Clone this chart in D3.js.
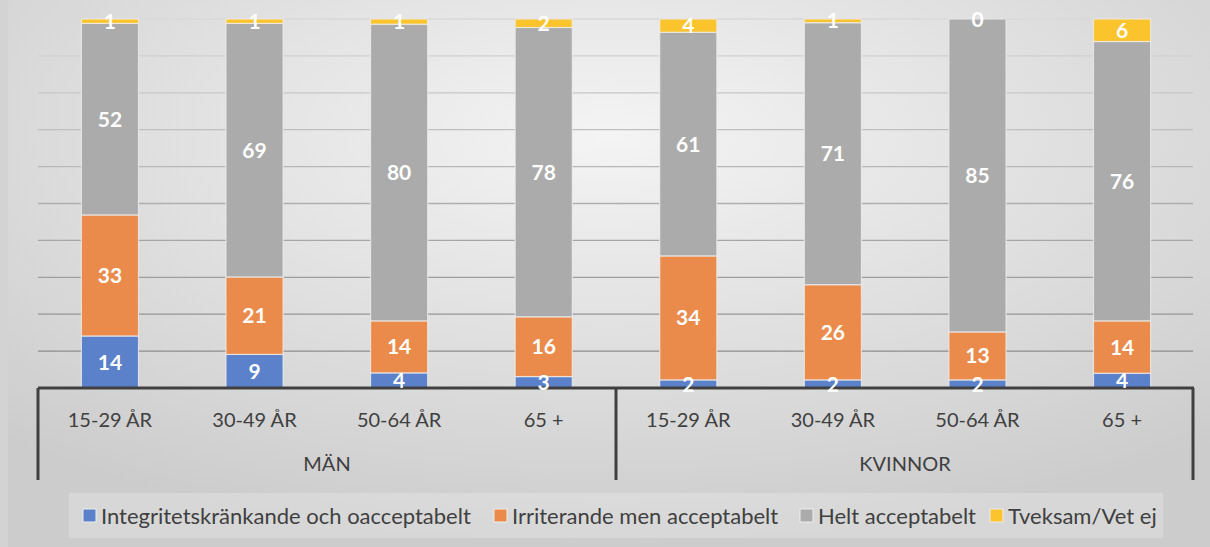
<!DOCTYPE html>
<html>
<head>
<meta charset="utf-8">
<title>Stacked bars</title>
<script src="https://d3js.org/d3.v7.min.js"></script>
<style>
body { margin: 0; background: #d6d6d6; }
text { font-family: Lato, "Open Sans", sans-serif; }
</style>
</head>
<body>
<div id="chart"></div>
<script type="text/javascript">

var groups = ["MÄN", "KVINNOR"];
var ages = ["15-29 ÅR", "30-49 ÅR", "50-64 ÅR", "65 +"];
var seriesNames = ["Integritetskränkande och oacceptabelt", "Irriterande men acceptabelt", "Helt acceptabelt", "Tveksam/Vet ej"];
// procent, avläst (etiketterna avrundas)
var integ = [14.1, 9.1, 4.1, 3.1, 2.2, 2.2, 2.2, 4.0];
var irrit = [32.8, 21.0, 14.1, 16.2, 33.6, 25.8, 13.0, 14.2];
var helt = [51.9, 68.7, 80.4, 78.4, 60.6, 71.0, 84.8, 75.7];
var tveks = [1.2, 1.2, 1.4, 2.3, 3.6, 1.0, 0, 6.1];
var yTicks = [0, 10, 20, 30, 40, 50, 60, 70, 80, 90, 100];

var colors = ["#5a81c9", "#eb8b4b", "#ababab", "#fbc42c"];
var legendX = [83, 494, 800, 990];

var width = 1210, height = 547;
var svg = d3.select("#chart").append("svg").attr("width", width).attr("height", height);

// bakgrund
var defs = svg.append("defs");
var grad = defs.append("radialGradient").attr("id", "bg").attr("cx", "50%").attr("cy", "25%").attr("r", "75%");
grad.append("stop").attr("offset", "0%").attr("stop-color", "#f4f4f4");
grad.append("stop").attr("offset", "100%").attr("stop-color", "#cccccc");
svg.append("rect").attr("width", width).attr("height", height).attr("fill", "#d3d3d3");
svg.append("rect").attr("x", 8).attr("width", width - 8).attr("height", height).attr("fill", "url(#bg)");

var rows = [];
groups.forEach(function(g, gi) {
	ages.forEach(function(a, ai) {
		var i = gi * ages.length + ai;
		rows.push({ key: g + "|" + a, group: g, age: a, s0: integ[i], s1: irrit[i], s2: helt[i], s3: tveks[i] });
	});
});

var x = d3.scaleBand().domain(rows.map(function(d) { return d.key; })).range([38, 1194]).paddingInner(0.605).paddingOuter(0.3);
var y = d3.scaleLinear().domain([0, 100]).range([388, 19]);
var fmt = d3.format(".0f");

// stödlinjer
var shade = d3.scaleLinear().domain([0, 100]).range(["#858585", "#d8d8d8"]);
svg.append("g").selectAll("line").data(yTicks.slice(1)).enter().append("line")
	.attr("x1", 38).attr("x2", 1193)
	.attr("y1", function(d) { return y(d); }).attr("y2", function(d) { return y(d); })
	.attr("stroke", function(d) { return shade(d); }).attr("stroke-width", 1.3);

var stack = d3.stack().keys(["s0", "s1", "s2", "s3"]);
var layers = stack(rows);

var lg = svg.append("g").selectAll("g").data(layers).enter().append("g")
	.attr("fill", function(d, i) { return colors[i]; });

lg.selectAll("rect").data(function(d) { return d; }).enter().append("rect")
	.attr("x", function(d) { return x(d.data.key); })
	.attr("width", x.bandwidth())
	.attr("y", function(d) { return y(d[1]); })
	.attr("height", function(d) { return y(d[0]) - y(d[1]); })
	.attr("stroke", "#ececec").attr("stroke-opacity", 0.8).attr("stroke-width", 1.2);

// kategoriaxel
var ax = svg.append("g").attr("stroke", "#404040").attr("stroke-width", 3);
ax.append("line").attr("x1", 38).attr("x2", 1194).attr("y1", y(0)).attr("y2", y(0));
[38, 616, 1193].forEach(function(px) {
	ax.append("line").attr("x1", px).attr("x2", px).attr("y1", y(0)).attr("y2", 480);
});

// dataetiketter
var labels = svg.append("g").selectAll("g").data(layers).enter().append("g");
labels.selectAll("text").data(function(d) { return d; }).enter().append("text")
	.attr("x", function(d) { return x(d.data.key) + x.bandwidth() / 2; })
	.attr("y", function(d) { return (y(d[0]) + y(d[1])) / 2; })
	.attr("dy", "0.36em")
	.attr("text-anchor", "middle")
	.attr("fill", "#ffffff").attr("font-weight", "bold").attr("font-size", 21)
	.text(function(d) { return fmt(d[1] - d[0]); });

svg.append("g").selectAll("text").data(rows).enter().append("text")
	.attr("x", function(d) { return x(d.key) + x.bandwidth() / 2; })
	.attr("y", 427).attr("text-anchor", "middle")
	.attr("fill", "#404040").attr("font-size", 20)
	.text(function(d) { return d.age; });

svg.append("g").selectAll("text").data(groups).enter().append("text")
	.attr("x", function(d, i) { return i === 0 ? 327 : 905; })
	.attr("y", 471).attr("text-anchor", "middle")
	.attr("fill", "#404040").attr("font-size", 20)
	.text(function(d) { return d; });

// förklaring
svg.append("rect").attr("x", 69).attr("y", 493).attr("width", 1094).attr("height", 45)
	.attr("fill", "#ffffff").attr("fill-opacity", 0.22);
var leg = svg.append("g").selectAll("g").data(seriesNames).enter().append("g")
	.attr("transform", function(d, i) { return "translate(" + legendX[i] + ",516)"; });
leg.append("rect").attr("x", 0).attr("y", -7).attr("width", 13).attr("height", 13)
	.attr("fill", function(d, i) { return colors[i]; }).attr("stroke", "#eeeeee").attr("stroke-width", 1);
leg.append("text").attr("x", 18).attr("dy", "0.36em")
	.attr("fill", "#404040").attr("font-size", 22)
	.text(function(d) { return d; });

</script>
</body>
</html>
